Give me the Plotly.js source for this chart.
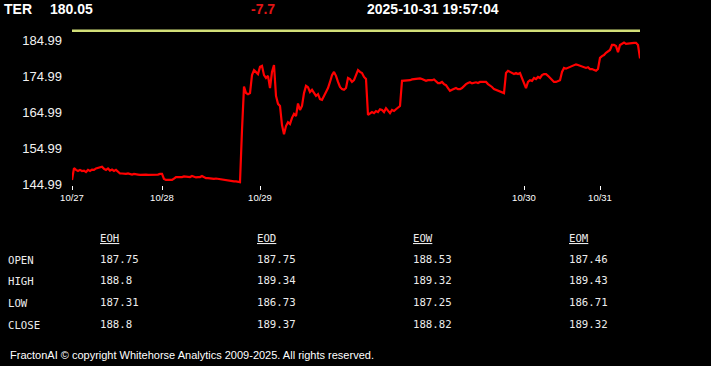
<!DOCTYPE html>
<html>
<head>
<meta charset="utf-8">
<script src="https://cdn.plot.ly/plotly-3.0.1.min.js"></script>
<style>
  html, body { margin: 0; padding: 0; background: #000; }
  #chart { width: 711px; height: 366px; }
</style>
</head>
<body>
<div id="chart"></div>
<script>
// ---------- DATA ----------
const ticker = 'TER';
const lastPrice = '180.05';
const change = '-7.7';
const timestamp = '2025-10-31 19:57:04';
const refLevel = 187.75;

const dayLabels = ['10/27', '10/28', '10/29', '10/30', '10/31'];
const dayStartIndex = [0, 45, 94, 226, 264];

const yTickValues = [144.99, 154.99, 164.99, 174.99, 184.99];

const prices = [
  146.2, 149.5, 149.0, 148.7, 149.0, 148.7, 148.8, 148.4, 149.0, 148.7,
  149.1, 149.0, 149.4, 149.5, 149.8, 149.9, 149.3, 149.0, 149.4, 148.8,
  149.1, 148.7, 149.0, 148.6, 148.0, 148.0, 147.9, 147.9, 148.0, 147.9,
  147.7, 147.9, 147.7, 147.7, 147.6, 147.7, 147.6, 147.7, 147.6, 147.6,
  147.6, 147.7, 147.6, 147.7, 147.9, 147.9, 146.5, 146.2, 146.2, 146.3,
  146.2, 146.6, 147.0, 147.0, 146.9, 147.0, 147.2, 147.2, 147.0, 147.0,
  147.3, 147.0, 146.9, 147.0, 147.0, 147.3, 146.9, 146.7, 146.7, 146.6,
  146.5, 146.5, 146.6, 146.5, 146.3, 146.2, 146.2, 146.1, 145.9, 145.9,
  145.8, 145.8, 145.8, 145.6, 145.6, 160.1, 172.2, 170.4, 170.1, 170.4,
  175.4, 176.8, 176.3, 175.7, 177.7, 178.0, 175.4, 174.6, 175.2, 171.8,
  176.3, 178.2, 169.6, 167.4, 166.8, 161.5, 158.9, 161.2, 162.3, 161.8,
  163.5, 164.6, 164.0, 167.5, 165.7, 166.8, 170.4, 172.4, 172.0, 170.7,
  171.3, 170.4, 169.6, 170.1, 168.7, 168.5, 169.6, 171.0, 171.8, 173.5,
  175.4, 176.3, 175.2, 173.5, 172.1, 171.5, 171.3, 171.8, 174.6, 174.3,
  173.5, 174.0, 175.7, 176.8, 176.3, 176.0, 174.9, 174.3, 164.3, 164.8,
  165.1, 164.8, 165.4, 165.1, 165.9, 165.7, 165.1, 166.2, 165.4, 164.8,
  165.7, 165.4, 165.9, 166.5, 166.8, 173.8, 173.8, 174.0, 174.0, 174.0,
  174.2, 174.3, 174.3, 174.5, 174.5, 174.3, 174.0, 173.8, 174.0, 173.9,
  174.0, 174.2, 173.8, 173.2, 173.2, 173.5, 172.9, 172.6, 171.8, 171.0,
  171.3, 171.5, 171.8, 171.5, 171.5, 171.8, 172.4, 172.9, 173.2, 173.4,
  173.1, 173.2, 173.4, 173.2, 173.5, 173.5, 173.6, 173.5, 172.9, 172.6,
  172.1, 171.5, 171.3, 171.1, 171.0, 170.7, 170.4, 176.0, 176.6, 176.3,
  176.1, 175.7, 176.0, 175.7, 176.0, 174.6, 172.9, 171.8, 173.5, 174.0,
  173.8, 174.6, 174.3, 174.9, 174.6, 175.4, 175.7, 175.7, 175.2, 174.6,
  174.0, 173.5, 173.5, 173.8, 174.0, 176.3, 177.4, 177.2, 177.4, 177.7,
  178.0, 178.2, 178.4, 178.2, 178.0, 177.7, 177.7, 177.4, 177.6, 177.1,
  177.1, 176.8, 176.6, 177.1, 180.2, 180.7, 181.0, 181.6, 182.1, 182.4,
  183.8, 183.8, 183.5, 181.8, 183.8, 184.1, 184.5, 184.1, 184.2, 184.4,
  184.5, 184.4, 184.4, 183.8, 180.05
];

const rowLabels = ['OPEN', 'HIGH', 'LOW', 'CLOSE'];
const colHeaders = ['EOH', 'EOD', 'EOW', 'EOM'];
const EOH = [187.75, 188.8, 187.31, 188.8];
const EOD = [187.75, 189.34, 186.73, 189.37];
const EOW = [188.53, 189.32, 187.25, 188.82];
const EOM = [187.46, 189.43, 186.71, 189.32];
const footer = 'FractonAI \u00A9 copyright Whitehorse Analytics 2009-2025. All rights reserved.';

// ---------- LAYOUT HELPERS ----------
const L = 72, T = 28, W = 568, H = 157;
const ax = px => (px - L) / W;
const ay = py => (T + H - py) / H;

const idx = prices.map((_, i) => i);
const lastIdx = prices.length - 1;

const traces = [
  {
    x: [0, lastIdx], y: [refLevel, refLevel],
    type: 'scatter', mode: 'lines',
    line: { color: '#d2df78', width: 2.5 },
    hoverinfo: 'skip'
  },
  {
    x: idx, y: prices,
    type: 'scatter', mode: 'lines',
    line: { color: '#ff0000', width: 2.2 },
    hoverinfo: 'skip'
  }
];

const sans = 'Liberation Sans, Arial, sans-serif';
const mono = 'DejaVu Sans Mono, Liberation Mono, monospace';
const ann = [];
function addText(text, px, py, font) {
  ann.push({
    text: text, xref: 'paper', yref: 'paper',
    x: ax(px), y: ay(py), xanchor: 'left', yanchor: 'middle',
    showarrow: false, borderpad: 0, font: font
  });
}
const hdrFont = c => ({ family: sans, size: 14, color: c, weight: 'bold' });
addText(ticker, 3, 9, hdrFont('#ffffff'));
addText(lastPrice, 49, 9, hdrFont('#ffffff'));
addText(change, 250, 9, hdrFont('#e01515'));
addText(timestamp, 366, 9, hdrFont('#ffffff'));

const tblFont = { family: mono, size: 10.7, color: '#ececec' };
const colX = [99, 255.5, 411.5, 567.5];
const rowY = [259, 280, 302, 324];
const cols = [EOH, EOD, EOW, EOM];
colHeaders.forEach((h, j) => {
  addText(h, colX[j], 238, Object.assign({}, tblFont, { lineposition: 'under' }));
});
rowLabels.forEach((r, i) => {
  addText(r, 7, rowY[i] + 1, tblFont);
  cols.forEach((c, j) => addText(String(c[i]), colX[j], rowY[i], tblFont));
});
addText(footer, 9, 355, { family: sans, size: 11, color: '#ffffff' });

const layout = {
  width: 711, height: 366,
  margin: { l: L, r: 711 - L - W, t: T, b: 366 - T - H, pad: 0 },
  paper_bgcolor: '#000000', plot_bgcolor: '#000000',
  showlegend: false,
  xaxis: {
    range: [0, lastIdx], showgrid: false, zeroline: false, showline: false,
    tickmode: 'array', tickvals: dayStartIndex, ticktext: dayLabels,
    ticks: 'outside', ticklen: 4, tickwidth: 1, tickcolor: '#ffffff',
    tickfont: { family: sans, size: 9.5, color: '#ffffff' }
  },
  yaxis: {
    range: [144.795, 188.528], showgrid: false, zeroline: false, showline: false,
    tickmode: 'array', tickvals: yTickValues, tickformat: '.2f',
    ticks: '', ticklabelstandoff: 9,
    tickfont: { family: sans, size: 13, color: '#f2f2f2' }
  },
  annotations: ann
};

Plotly.newPlot('chart', traces, layout, { staticPlot: true, displayModeBar: false });
</script>
</body>
</html>
